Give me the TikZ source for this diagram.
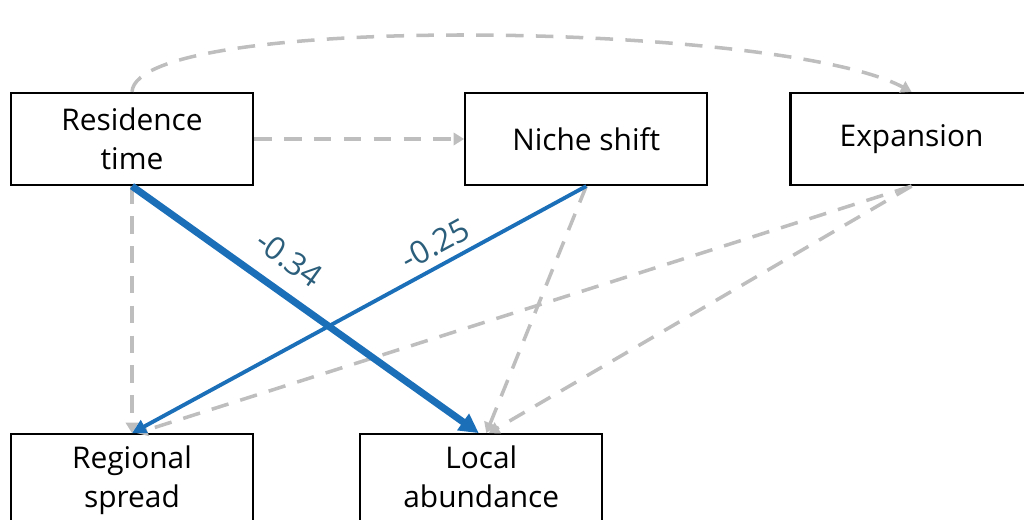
\documentclass[tikz,border=0pt]{standalone}
\usepackage{fontspec}
\setmainfont{Open Sans}
\usepackage{xcolor}
\usetikzlibrary{arrows.meta,positioning,calc}

\definecolor{pathblue}{HTML}{1B6FB9}
\definecolor{labblue}{HTML}{2B5E7B}
\definecolor{nsgray}{HTML}{BEBEBE}

\begin{document}
\begin{tikzpicture}[
    node distance=4.2cm and 4.94cm,
    box/.style={rectangle, draw=black, line width=1.3pt, fill=white, align=center, minimum height=1.84cm, minimum width=4.84cm, font=\fontsize{17}{22.5}\selectfont},
    sig/.style={draw=pathblue, line width=2.2pt, -{Triangle[length=8pt,width=8pt]}},
    sigb/.style={sig, line width=4pt, -{Triangle[length=11pt,width=11pt]}},
    ns/.style={draw=nsgray, line width=2pt, dash pattern=on 10pt off 7pt, -{Triangle[length=6pt,width=7pt]}},
    coef/.style={sloped, text=labblue, font=\fontsize{18}{20}\selectfont, inner sep=1pt}
]
    \useasboundingbox (-2.64,2.78) rectangle (17.84,-7.62);
    \clip (-2.64,2.78) rectangle (17.84,-7.62);

    \node [box] (rt) at (0,0) {Residence\\time};
    \node [box, right=4.2cm of rt] (ns) {Niche shift};
    \node [box, right=1.62cm of ns] (ex) {Expansion};
    \node [box, below=4.94cm of rt] (rs) {\strut Regional\\spread\strut};
    \node [box, right=2.1cm of rs] (la) {\strut Local\\abundance\strut};

    % non-significant paths
    \draw [ns] (rt.north) .. controls +(0.1,1.6) and +(-2.6,1.4) .. (ex.north);
    \draw [ns] (rt.east) -- (ns.west);
    \draw [ns] (rt.south) -- (rs.north);
    \draw [ns] (ns.south) -- ($(la.north)+(0.1,0)$);
    \draw [ns] (ex.south) -- ($(rs.north)+(0.1,0)$);
    \draw [ns] (ex.south) -- ($(la.north)+(0.15,0)$);

    % significant paths
    \draw [sigb] (rt.south) -- node [coef, above=0.3cm, pos=0.4] {-0.34} ($(la.north)+(-0.05,0)$);
    \draw [sig] (ns.south) -- node [coef, above=0.12cm, pos=0.31] {-0.25} (rs.north);
\end{tikzpicture}
\end{document}
